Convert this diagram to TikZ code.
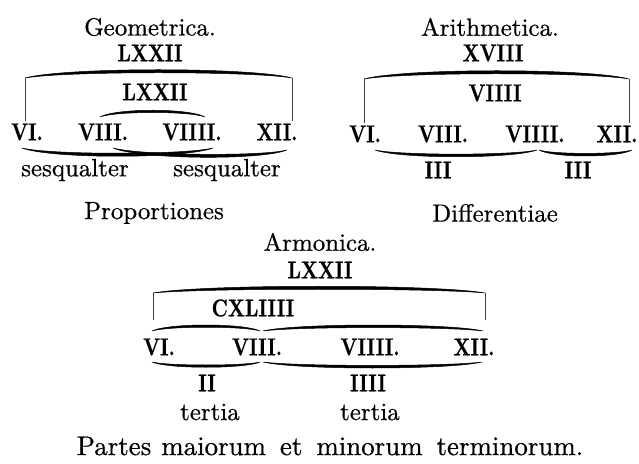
\documentclass[tikz,border=0pt]{standalone}
\usepackage{fontspec}
\setmainfont{lmroman10-regular.otf}[BoldFont=lmroman10-bold.otf, FakeBold=0.6]
\usetikzlibrary{calc}
\newcommand\cnd[1]{\scalebox{0.8}[1]{#1}}
% tapered arc: #1,#2 end coordinates, #3 control offset (neg = up), #4 thickness offset
\newcommand\hump[4]{%
  \filldraw[line width=0.5bp] (#1) .. controls ($(#1)!0.15!(#2)+(0,{#3})$) and ($(#1)!0.85!(#2)+(0,{#3})$) .. (#2)
     .. controls ($(#1)!0.85!(#2)+(0,{#3+#4})$) and ($(#1)!0.15!(#2)+(0,{#3+#4})$) .. cycle;}
\tikzset{
  ttl/.style={inner sep=0pt, font=\fontsize{25}{25}\selectfont},
  big/.style={inner sep=0pt, font=\fontsize{27}{27}\selectfont},
  num/.style={inner sep=0pt, font=\bfseries\fontsize{24.5}{24.5}\selectfont},
  vline/.style={line width=0.6bp, black!75},
}
\begin{document}
\begin{tikzpicture}[x=1bp,y=-1bp]
\useasboundingbox (0,0) rectangle (639,464);
% ---------------- Geometrica
\node[ttl] (gt) at (150,27) {Geometrica.};
\node[num] (gtop) at (150,53) {\cnd{LXXII}};
\coordinate (ga1) at (25,78); \coordinate (ga2) at (292,78);
\coordinate (gv1) at (25,121); \coordinate (gv2) at (292,121);
\hump{ga1}{ga2}{-11}{4}
\draw[vline] (ga1) -- (gv1);
\draw[vline] (ga2) -- (gv2);
\node[num] (gin) at (155,92) {\cnd{LXXII}};
\node[num] (g6) at (27,132) {\cnd{VI.}};
\node[num] (g8) at (103,132) {\cnd{VIII.}};
\node[num] (g9) at (192,132) {\cnd{VIIII.}};
\node[num] (g12) at (277,132) {\cnd{XII.}};
\coordinate (gi1) at (100,117); \coordinate (gi2) at (205,117);
\hump{gi1}{gi2}{-9}{3}
\coordinate (gl1) at (22,148); \coordinate (gl2) at (213,148);
\coordinate (gl3) at (113,148); \coordinate (gl4) at (287,150);
\hump{gl1}{gl2}{11}{-4}
\hump{gl3}{gl4}{11}{-4}
\node[ttl] (gs1) at (75,170) {sesqualter};
\node[ttl] (gs2) at (227,170) {sesqualter};
\node[ttl] (gp) at (154,213) {Proportiones};
% ---------------- Arithmetica
\node[ttl] (at) at (490,27) {Arithmetica.};
\node[num] (atop) at (493,53) {\cnd{XVIII}};
\coordinate (aa1) at (364,79); \coordinate (aa2) at (629,79);
\coordinate (av1) at (364,123); \coordinate (av2) at (629,123);
\hump{aa1}{aa2}{-11}{4}
\draw[vline] (aa1) -- (av1);
\draw[vline] (aa2) -- (av2);
\node[num] (ain) at (495,93) {\cnd{VIIII}};
\node[num] (a6) at (365,134) {\cnd{VI.}};
\node[num] (a8) at (443,134) {\cnd{VIII.}};
\node[num] (a9) at (535,134) {\cnd{VIIII.}};
\node[num] (a12) at (617,134) {\cnd{XII.}};
\coordinate (al1) at (375,150); \coordinate (al2) at (537,150);
\coordinate (al3) at (539,150); \coordinate (al4) at (632,150);
\hump{al1}{al2}{9}{-3.5}
\hump{al3}{al4}{8}{-3.5}
\node[num] (ad1) at (438,170) {\cnd{III}};
\node[num] (ad2) at (578,170) {\cnd{III}};
\node[ttl] (ad) at (495,213) {Differentiae};
% ---------------- Armonica
\node[ttl] (rt) at (320,242) {Armonica.};
\node[num] (rtop) at (320,270) {\cnd{LXXII}};
\coordinate (ra1) at (153,293); \coordinate (ra2) at (485,293);
\coordinate (rv1) at (153,320); \coordinate (rv2) at (485,320);
\hump{ra1}{ra2}{-9}{4}
\draw[vline] (ra1) -- (rv1);
\draw[vline] (ra2) -- (rv2);
\node[num] (rin) at (253,308) {\cnd{CXLIIII}};
\coordinate (ru1) at (152,331); \coordinate (ru2) at (260,331);
\coordinate (ru3) at (263,331); \coordinate (ru4) at (483,331);
\hump{ru1}{ru2}{-8}{3}
\hump{ru3}{ru4}{-8}{3.5}
\node[num] (r6) at (159,347) {\cnd{VI.}};
\node[num] (r8) at (257,347) {\cnd{VIII.}};
\node[num] (r9) at (370,347) {\cnd{VIIII.}};
\node[num] (r12) at (474,347) {\cnd{XII.}};
\coordinate (rl1) at (152,362); \coordinate (rl2) at (260,362);
\coordinate (rl3) at (263,362); \coordinate (rl4) at (482,362);
\hump{rl1}{rl2}{7}{-3}
\hump{rl3}{rl4}{8}{-3.5}
\node[num] (rd1) at (207,383) {\cnd{II}};
\node[num] (rd2) at (368,383) {\cnd{IIII}};
\node[ttl] (rs1) at (210,412) {tertia};
\node[ttl] (rs2) at (370,412) {tertia};
\node[big] (rp) at (330,446) {Partes\hspace{10bp}maiorum\hspace{14bp}et\hspace{14bp}minorum\hspace{14bp}terminorum.};
\end{tikzpicture}
\end{document}
